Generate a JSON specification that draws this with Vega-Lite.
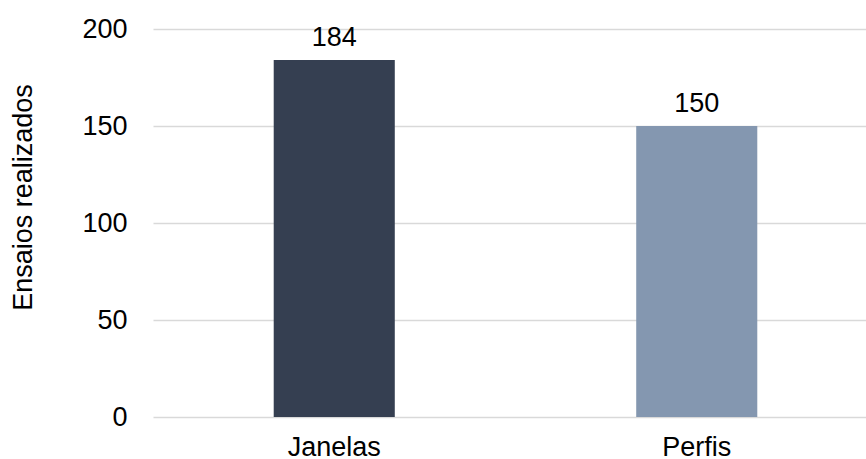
{
  "$schema": "https://vega.github.io/schema/vega-lite/v6.json",
  "width": 725,
  "height": 388,
  "autosize": {"type": "none"},
  "padding": {"left": 153, "top": 29, "right": 0, "bottom": 42},
  "background": "white",
  "config": {
    "view": {"stroke": null},
    "font": "Liberation Sans",
    "axis": {"labelFont": "Liberation Sans", "titleFont": "Liberation Sans", "labelColor": "#000000", "titleColor": "#000000"}
  },
  "data": {
    "values": [
      {"categoria": "Janelas", "ensaios": 184},
      {"categoria": "Perfis", "ensaios": 150}
    ]
  },
  "encoding": {
    "x": {
      "field": "categoria",
      "type": "nominal",
      "sort": null,
      "scale": {"paddingInner": 0.666, "paddingOuter": 0.333},
      "axis": {"title": null, "labelAngle": 0, "domain": false, "ticks": false, "labelFontSize": 27, "labelPadding": 17}
    },
    "y": {
      "field": "ensaios",
      "type": "quantitative",
      "scale": {"domain": [0, 200], "nice": false},
      "axis": {
        "title": "Ensaios realizados",
        "titleFontSize": 27,
        "titleFontWeight": "normal",
        "titleAngle": 270,
        "titleAlign": "center",
        "titleBaseline": "middle",
        "titleX": -130,
        "titleY": 168,
        "values": [0, 50, 100, 150, 200],
        "domain": false,
        "ticks": false,
        "labelFontSize": 27,
        "labelPadding": 26,
        "gridColor": "#D9D9D9",
        "gridWidth": 1.5
      }
    }
  },
  "layer": [
    {
      "mark": {"type": "bar"},
      "encoding": {
        "color": {
          "field": "categoria",
          "type": "nominal",
          "scale": {"domain": ["Janelas", "Perfis"], "range": ["#353F51", "#8497B0"]},
          "legend": null
        }
      }
    },
    {
      "mark": {"type": "text", "baseline": "alphabetic", "dy": -14, "fontSize": 27, "color": "#000000"},
      "encoding": {"text": {"field": "ensaios", "type": "quantitative"}}
    }
  ]
}
